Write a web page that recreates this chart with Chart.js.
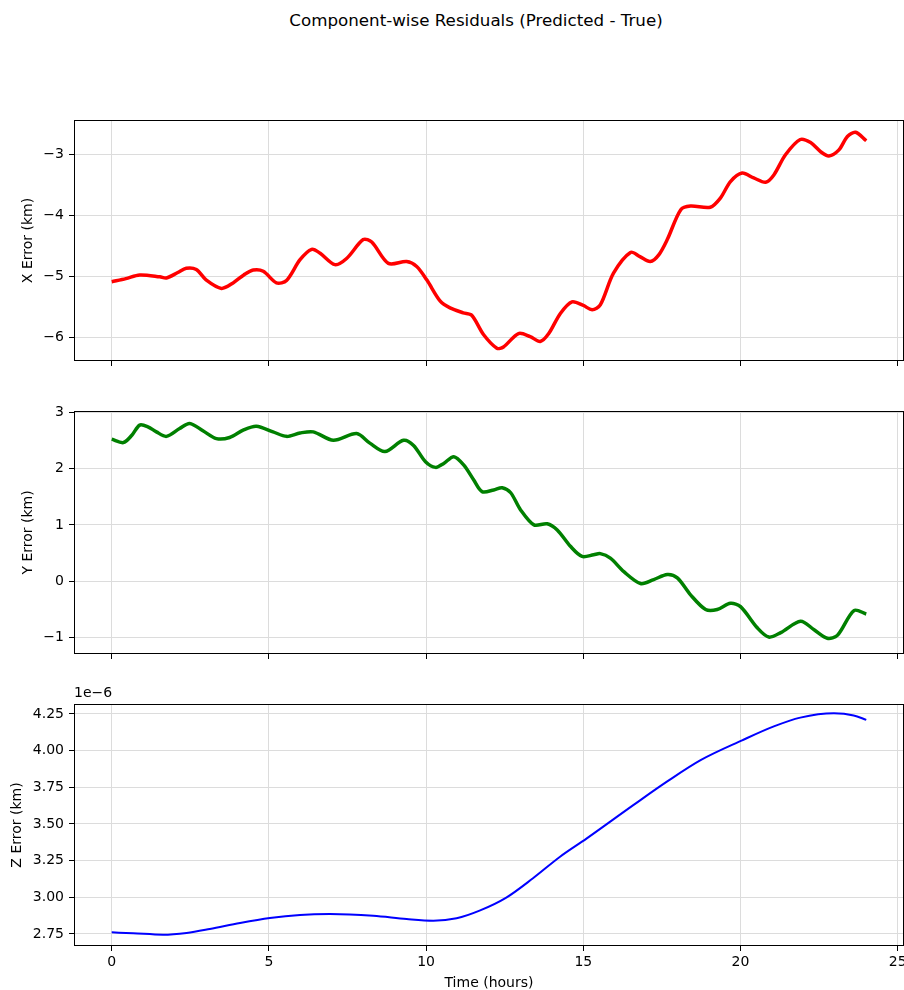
<!DOCTYPE html>
<html>
<head>
<meta charset="utf-8">
<script src="https://cdn.jsdelivr.net/npm/chart.js@4.4.1/dist/chart.umd.min.js"></script>
<style>
  html, body { margin: 0; padding: 0; background: #fff; overflow: hidden; }
  #wrap { position: relative; width: 904px; height: 990px; overflow: hidden; }
  #title { position: absolute; top: 10px; left: 0; width: 952px; text-align: center;
           font: 16.7px "DejaVu Sans"; line-height: 20px; color: #000; }
  canvas { position: absolute; left: 0; }
</style>
</head>
<body>
<div id="wrap">
  <div id="title">Component-wise Residuals (Predicted - True)</div>
  <canvas id="chart-x" width="904" height="290" style="top:100px"></canvas>
  <canvas id="chart-y" width="904" height="290" style="top:390px"></canvas>
  <canvas id="chart-z" width="904" height="320" style="top:680px"></canvas>
</div>
<script>
// time axis
const timeTicks = [0, 5, 10, 15, 20, 25];

// X residual (km)
const xTimes = [0, 0.45, 0.89, 1.53, 1.74, 2.1, 2.37, 2.69, 3.0, 3.49, 3.86, 4.2, 4.5, 4.82, 5.24, 5.56,
  5.99, 6.36, 6.62, 7.1, 7.47, 8.0, 8.27, 8.8, 9.38, 9.7, 10.02, 10.45, 10.76, 11.18, 11.45, 11.83,
  12.25, 12.46, 12.94, 13.31, 13.63, 13.9, 14.27, 14.64, 15.0, 15.28, 15.54, 15.96, 16.5, 16.8, 17.13,
  17.4, 17.67, 18.1, 18.41, 19.04, 19.36, 19.68, 20.05, 20.42, 20.8, 21.06, 21.43, 21.9, 22.23, 22.55,
  22.81, 23.13, 23.4, 23.66, 24.0];
const xValues = [-5.08, -5.03, -4.97, -5.0, -5.02, -4.93, -4.86, -4.88, -5.05, -5.19, -5.10, -4.97, -4.89, -4.91, -5.10, -5.06,
  -4.72, -4.55, -4.61, -4.80, -4.70, -4.39, -4.43, -4.78, -4.75, -4.83, -5.05, -5.40, -5.51, -5.59, -5.63, -5.95,
  -6.17, -6.15, -5.93, -5.98, -6.06, -5.93, -5.60, -5.41, -5.47, -5.54, -5.46, -4.94, -4.60, -4.67, -4.75,
  -4.64, -4.39, -3.90, -3.84, -3.86, -3.71, -3.44, -3.30, -3.38, -3.45, -3.33, -3.0, -2.75, -2.80, -2.95,
  -3.02, -2.92, -2.70, -2.63, -2.77];
const xErrTicks = [-6, -5, -4, -3];

// Y residual (km)
const yTimes = [0, 0.37, 0.64, 0.89, 1.15, 1.42, 1.74, 2.16, 2.48, 2.9, 3.33, 3.75, 4.18, 4.6, 5.13, 5.56,
  5.99, 6.41, 7.05, 7.79, 8.21, 8.69, 9.28, 9.6, 9.98, 10.3, 10.56, 10.88, 11.2, 11.51, 11.78, 12.15,
  12.42, 12.69, 13.0, 13.43, 13.85, 14.17, 14.59, 14.96, 15.33, 15.54, 15.86, 16.29, 16.82, 17.24,
  17.67, 17.99, 18.41, 18.89, 19.26, 19.68, 20.0, 20.54, 20.9, 21.28, 21.91, 22.34, 22.76, 23.08, 23.61, 24.0];
const yValues = [2.52, 2.46, 2.59, 2.77, 2.74, 2.65, 2.57, 2.71, 2.80, 2.67, 2.53, 2.55, 2.68, 2.75, 2.65, 2.57,
  2.63, 2.65, 2.50, 2.62, 2.45, 2.30, 2.50, 2.41, 2.12, 2.02, 2.09, 2.21, 2.06, 1.80, 1.59, 1.62,
  1.66, 1.57, 1.27, 1.0, 1.02, 0.91, 0.62, 0.44, 0.47, 0.49, 0.41, 0.17, -0.04, 0.03,
  0.12, 0.06, -0.24, -0.50, -0.50, -0.39, -0.45, -0.83, -0.99, -0.91, -0.71, -0.86, -1.01, -0.96, -0.52, -0.58];
const yErrTicks = [-1, 0, 1, 2, 3];

// Z residual (units of 1e-6 km)
const zTimes = [0, 0.68, 1.63, 2.38, 3.12, 4.08, 5.03, 5.99, 6.94, 8.32, 9.38, 10.23, 10.97, 11.7, 12.55,
  13.4, 14.25, 15.1, 16.6, 17.67, 18.73, 20.05, 21.06, 21.9, 22.97, 23.6, 24.0];
const zValues = [2.761, 2.755, 2.745, 2.757, 2.784, 2.825, 2.859, 2.88, 2.886, 2.874, 2.852, 2.841, 2.857, 2.909, 2.998,
  3.13, 3.275, 3.40, 3.63, 3.79, 3.935, 4.07, 4.165, 4.225, 4.255, 4.24, 4.21];
const zErrTicks = [2.75, 3.00, 3.25, 3.50, 3.75, 4.00, 4.25];

const minus = v => String(v).replace('-', '\u2212');

Chart.defaults.font.family = '"DejaVu Sans", sans-serif';
Chart.defaults.font.size = 14;
Chart.defaults.color = '#000';

// full box around the plot area, plus the matplotlib style offset text
const boxPlugin = {
  id: 'axbox',
  afterDraw(chart, args, opts) {
    const { ctx, chartArea: a } = chart;
    ctx.save();
    ctx.strokeStyle = '#000';
    ctx.lineWidth = 1;
    ctx.strokeRect(a.left + 0.5, a.top + 0.5, a.right - a.left - 1, a.bottom - a.top - 1);
    if (opts.offsetText) {
      ctx.fillStyle = '#000';
      ctx.font = '14px "DejaVu Sans"';
      ctx.textAlign = 'left';
      ctx.textBaseline = 'bottom';
      ctx.fillText(opts.offsetText, a.left, a.top - 4);
    }
    ctx.restore();
  }
};

function makeChart(id, cfg) {
  const points = cfg.times.map((t, i) => ({ x: t, y: cfg.values[i] }));
  return new Chart(document.getElementById(id), {
    type: 'line',
    data: {
      datasets: [{
        data: points,
        borderColor: cfg.color,
        borderWidth: cfg.width,
        pointRadius: 0,
        tension: cfg.tension,
        cubicInterpolationMode: cfg.mode || 'default',
        fill: false
      }]
    },
    options: {
      responsive: false,
      animation: false,
      layout: { padding: { top: cfg.padTop, right: 0, left: 0, bottom: 0 } },
      plugins: {
        legend: { display: false },
        tooltip: { enabled: false },
        axbox: { offsetText: cfg.offsetText || null }
      },
      scales: {
        x: {
          type: 'linear',
          min: -1.2,
          max: 25.2,
          afterBuildTicks: s => { s.ticks = timeTicks.map(v => ({ value: v })); },
          afterFit: s => {
            s.height = cfg.xHeight;
            s.paddingLeft = 0; s.paddingRight = 0;
          },
          ticks: {
            padding: 3,
            maxRotation: 0,
            autoSkip: false,
            callback: v => cfg.showX ? String(v) : ''
          },
          grid: { color: '#dcdcdc', lineWidth: 1, tickColor: '#000', tickLength: 5, tickWidth: 1 },
          border: { display: false },
          title: {
            display: cfg.showX,
            text: 'Time (hours)',
            padding: { top: 0, bottom: 8 }
          }
        },
        y: {
          type: 'linear',
          min: cfg.yMin,
          max: cfg.yMax,
          afterBuildTicks: s => { s.ticks = cfg.yTicks.map(v => ({ value: v })); },
          afterFit: s => {
            s.width = 74;
            s.paddingTop = 0; s.paddingBottom = 0;
          },
          ticks: {
            padding: 5,
            autoSkip: false,
            callback: cfg.fmt
          },
          grid: { color: '#dcdcdc', lineWidth: 1, tickColor: '#000', tickLength: 5, tickWidth: 1 },
          border: { display: false },
          title: {
            display: true,
            text: cfg.label,
            padding: { top: cfg.titlePad, bottom: 0 }
          }
        }
      }
    },
    plugins: [boxPlugin]
  });
}

makeChart('chart-x', {
  times: xTimes, values: xValues, color: '#ff0000', width: 3.5, tension: 0.3,
  padTop: 20, xHeight: 29, showX: false,
  yMin: -6.38, yMax: -2.43, yTicks: xErrTicks,
  fmt: v => minus(v), label: 'X Error (km)', titlePad: 19.6
});

makeChart('chart-y', {
  times: yTimes, values: yValues, color: '#008000', width: 3.5, tension: 0.3,
  padTop: 21, xHeight: 26, showX: false,
  yMin: -1.29, yMax: 3.02, yTicks: yErrTicks,
  fmt: v => minus(v), label: 'Y Error (km)', titlePad: 19.6
});

makeChart('chart-z', {
  times: zTimes, values: zValues, color: '#0000ff', width: 2, tension: 0.4, mode: 'monotone',
  padTop: 24, xHeight: 54, showX: true,
  yMin: 2.668, yMax: 4.318, yTicks: zErrTicks,
  fmt: v => v.toFixed(2), label: 'Z Error (km)', titlePad: 8.6,
  offsetText: '1e\u22126'
});
</script>
</body>
</html>
